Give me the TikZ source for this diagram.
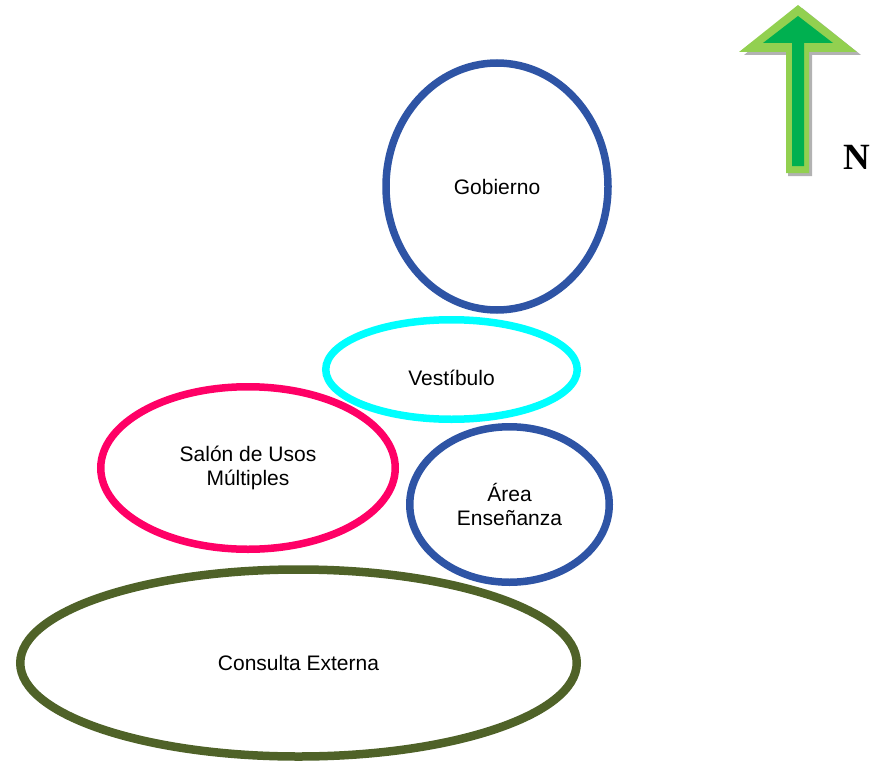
\documentclass[tikz,border=0pt]{standalone}
\usepackage{fontspec}
\setmainfont{Liberation Sans}
\newfontfamily\nfont{Liberation Serif}
\usepackage{xcolor}
\usetikzlibrary{shapes.geometric}
\definecolor{zoneblue}{HTML}{2E54A5}
\definecolor{zonecyan}{HTML}{00FFFF}
\definecolor{zonepink}{HTML}{FF0066}
\definecolor{zoneolive}{HTML}{4F6228}
\definecolor{arrowlight}{HTML}{92D050}
\definecolor{arrowdark}{HTML}{00B050}
\tikzset{
  zone/.style={ellipse, draw=#1, line width=7.5pt, inner sep=0pt, align=center,
    font=\fontsize{21}{24}\selectfont},
}

\begin{document}
\begin{tikzpicture}[x=1pt,y=-1pt]
\useasboundingbox (0,0) rectangle (875,765);

% rooms
\node[zone=zoneblue, minimum width=222pt, minimum height=247pt] (gob) at (497,186.5) {Gobierno};
\node[zone=zonecyan, minimum width=251.5pt, minimum height=99.5pt] (vest) at (451.5,369.5) {};
\node[font=\fontsize{21}{24}\selectfont] (vesttxt) at (451.5,378) {Vestíbulo};
\node[zone=zoneblue, minimum width=199.5pt, minimum height=155.5pt] (area) at (509.5,504.5) {Área\\Enseñanza};
\node[zone=zonepink, minimum width=294.5pt, minimum height=162.5pt] (sum) at (248,468) {Salón de Usos\\Múltiples};
\node[zone=zoneolive, line width=8.5pt, minimum width=556.5pt, minimum height=187pt] (cext) at (298.5,663) {Consulta Externa};

% north arrow
\fill[gray!60] (802,8) -- (861,55) -- (812,55) -- (812,176) -- (788,176) -- (788,55) -- (744,55) -- cycle;
\fill[arrowlight] (798,5) -- (857,52) -- (809,52) -- (809,173) -- (786,173) -- (786,52) -- (739,52) -- cycle;
\fill[arrowdark] (798,16) -- (833,43) -- (804,43) -- (804,166) -- (792,166) -- (792,43) -- (763,43) -- cycle;
\node[font=\nfont\bfseries\fontsize{37}{37}\selectfont, inner sep=0pt] (north) at (857,157) {N};
\end{tikzpicture}
\end{document}
